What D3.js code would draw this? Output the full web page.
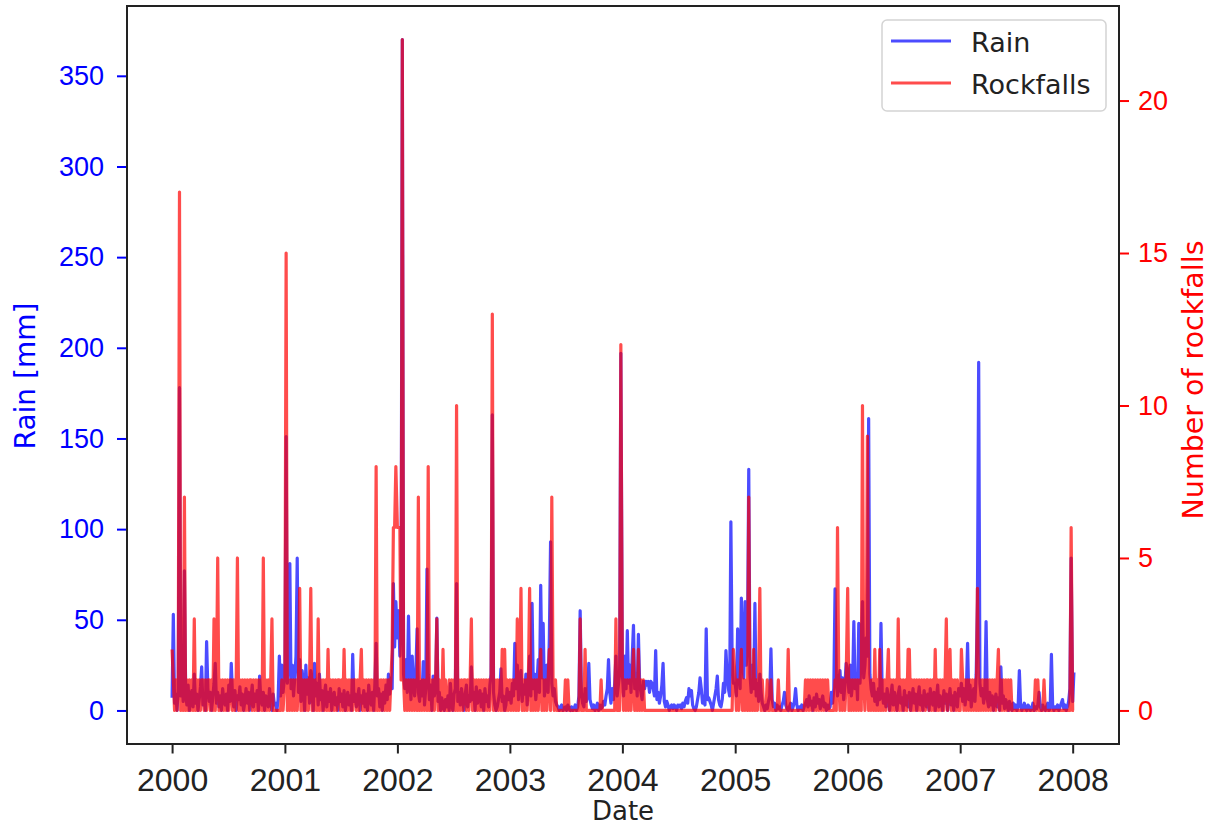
<!DOCTYPE html>
<html>
<head>
<meta charset="utf-8">
<script src="https://cdn.jsdelivr.net/npm/d3@7"></script>
<style>
  body { margin: 0; background: #fff; }
  svg { display: block; font-family: "DejaVu Sans", sans-serif; }
</style>
</head>
<body>
<div id="chart"></div>
<script>
// Rain in mm, one array per year.
var rain2000 = [7, 53, 4, 9, 0, 12, 178, 8, 20, 5,  77, 10, 3, 14, 0, 6, 11, 2, 20, 4,
  9, 0, 6, 13, 24, 3, 8, 0, 38, 12,  5, 10, 0, 7, 15, 26, 4, 10, 2, 8,
  0, 12, 6, 3, 9, 0, 14, 5, 26, 8,  2, 11, 0, 8, 6, 13, 3, 9, 0, 5,
  12, 4, 10, 0, 7, 14, 2, 9, 5, 11,  0, 19, 6, 3, 10, 0, 8, 7, 2, 12,
  5, 0, 9, 3, 4, 0, 6, 30, 8, 25,  10];
var rain2001 = [20, 151, 15, 30, 81, 12, 25, 8, 18, 30,  84, 10, 28, 5, 22, 14, 0, 25, 9, 18,
  4, 22, 12, 0, 26, 8, 15, 3, 20, 6,  11, 0, 9, 14, 2, 10, 5, 12, 0, 8,
  10, 3, 7, 0, 12, 5, 9, 2, 11, 0,  6, 10, 3, 8, 0, 31, 5, 9, 2, 7,
  12, 0, 8, 4, 11, 2, 9, 0, 14, 6,  3, 10, 0, 15, 37, 8, 12, 2, 9, 0,
  10, 4, 14, 6, 20, 9, 18, 12, 70, 35,  60];
var rain2002 = [40, 55, 30, 48, 370, 20, 12, 28, 10, 52,  18, 6, 30, 14, 8, 22, 45, 10, 5, 16,
  8, 27, 3, 12, 78, 20, 6, 14, 0, 19,  8, 12, 51, 5, 10, 0, 7, 3, 0, 6,
  2, 8, 0, 15, 4, 0, 9, 12, 70, 5,  10, 3, 12, 6, 0, 9, 14, 2, 8, 5,
  24, 6, 10, 0, 13, 4, 8, 11, 2, 9,  0, 12, 5, 8, 2, 14, 20, 163, 10, 3,
  0, 2, 6, 10, 23, 5, 8, 0, 3, 12,  6];
var rain2003 = [10, 4, 15, 8, 37, 12, 25, 6, 18, 22,  5, 14, 9, 20, 3, 16, 30, 8, 59, 12,
  20, 6, 15, 28, 10, 69, 18, 48, 8, 14,  25, 10, 40, 93, 15, 8, 12, 5, 3, 2,
  0, 2, 3, 0, 1, 2, 0, 3, 1, 0,  2, 0, 1, 3, 0, 2, 8, 55, 10, 4,
  2, 12, 5, 8, 26, 6, 3, 1, 3, 0,  2, 4, 0, 3, 1, 2, 5, 3, 8, 12,
  28, 10, 4, 12, 6, 15, 30, 8, 14, 20,  197];
var rain2004 = [20, 8, 30, 12, 44, 15, 25, 10, 30, 47,  12, 20, 8, 42, 15, 10, 6, 16, 12, 16,
  14, 16, 10, 16, 15, 12, 8, 33, 6, 10,  4, 8, 14, 26, 5, 2, 5, 3, 0, 2,
  3, 1, 3, 2, 0, 3, 2, 3, 1, 4,  2, 5, 7, 4, 12, 8, 11, 3, 1, 0,
  2, 6, 10, 18, 12, 4, 8, 3, 45, 6,  7, 5, 3, 0, 4, 8, 12, 19, 6, 3,
  2, 6, 15, 10, 33, 20, 12, 8, 104, 30,  15];
var rain2005 = [15, 8, 45, 20, 12, 62, 30, 18, 60, 25,  40, 133, 20, 10, 25, 12, 59, 8, 15, 5,
  20, 10, 4, 2, 0, 3, 1, 5, 8, 34,  6, 2, 4, 0, 3, 1, 2, 0, 3, 5,
  10, 3, 1, 0, 2, 4, 0, 2, 5, 12,  3, 0, 2, 1, 3, 0, 2, 4, 6, 2,
  8, 3, 5, 0, 7, 2, 9, 4, 6, 1,  5, 8, 2, 4, 0, 3, 1, 2, 10, 4,
  12, 67, 20, 8, 15, 22, 10, 18, 6, 14,  26];
var rain2006 = [20, 10, 25, 8, 15, 49, 12, 20, 6, 48,  15, 30, 60, 18, 25, 40, 30, 161, 20, 12,
  8, 15, 5, 10, 3, 12, 6, 48, 10, 4,  9, 2, 12, 6, 0, 8, 14, 3, 10, 5,
  0, 9, 13, 4, 7, 0, 11, 3, 8, 2,  10, 0, 6, 12, 4, 9, 0, 7, 13, 3,
  8, 0, 11, 5, 2, 9, 0, 12, 6, 3,  10, 0, 7, 14, 2, 8, 5, 0, 11, 4,
  9, 0, 6, 12, 3, 8, 0, 10, 5, 2,  12];
var rain2007 = [8, 15, 5, 12, 3, 10, 37, 6, 14, 2,  9, 12, 5, 20, 60, 192, 15, 8, 12, 4,
  10, 49, 6, 2, 10, 3, 8, 0, 5, 9,  2, 7, 0, 24, 4, 8, 1, 6, 3, 0,
  5, 2, 0, 4, 1, 3, 0, 2, 22, 3,  0, 2, 4, 1, 0, 3, 2, 0, 1, 4,
  0, 2, 1, 3, 10, 2, 0, 3, 1, 0,  2, 4, 0, 1, 31, 3, 0, 2, 1, 3,
  0, 2, 4, 6, 1, 3, 0, 2, 5, 12,  84];
var rain2008 = [5, 21];

// Rockfall counts, one character per sample (base 36: a = 10, d = 13, h = 17, m = 22).
var rocks2000 = "210101h010 7010101030 1010110101 1010301501 0101010110 1015010101 0101101010 1010501010 13000000010";
var rocks2001 = "1f01010101 0140101010 1401010301 0101020101 0101101020 1010101101 0120101010 1010801010 10101012668";
var rocks2002 = "6661m10101 0101010701 0101080101 0130100201 00101010a0 1010110101 3010101010 1010101d01 01010202010";
var rocks2003 = "1010103014 0101014010 1010120101 0120710100 0000010100 0000000300 0200000000 0000100000 0000003000c";
var rocks2004 = "1010101012 0102010100 0000000000 0000000000 0000000000 0000000000 0000000000 0000000000 00000000002";
var rocks2005 = "1010120101 0701020101 4010001001 0000010000 0002000000 0000000101 0101010101 0101010000 01061010101";
var rocks2006 = "4010101010 10a1019010 1020102010 1012010101 0301010102 2010101010 1010110101 0201010101 30120101010";
var rocks2007 = "0210101010 1010401010 1010101010 1201010101 0100000000 0000000000 0101000010 0000000000 00000000006";
var rocks2008 = "00";

var years = [2000, 2001, 2002, 2003, 2004, 2005, 2006, 2007, 2008];
var rainByYear = [rain2000, rain2001, rain2002, rain2003, rain2004, rain2005, rain2006, rain2007, rain2008];
var rocksByYear = [rocks2000, rocks2001, rocks2002, rocks2003, rocks2004, rocks2005, rocks2006, rocks2007, rocks2008];
var slotDays = 4;

var rainTicks = [0, 50, 100, 150, 200, 250, 300, 350];
var rockTicks = [0, 5, 10, 15, 20];
var yearTicks = [2000, 2001, 2002, 2003, 2004, 2005, 2006, 2007, 2008];

var data = [];
years.forEach(function(yr, i) {
    var counts = rocksByYear[i].replace(/ /g, '');
    rainByYear[i].forEach(function(v, s) {
        data.push({
            date: new Date(yr, 0, 1 + s * slotDays),
            rain: v,
            rocks: parseInt(counts[s], 36)
        });
    });
});

var width = 1209, height = 827;
var plotL = 127, plotR = 1119, plotT = 6, plotB = 744;
var rainColor = 'blue', rockColor = 'red';

// matplotlib style 5% margins
function padded(ext) {
    var span = ext[1] - ext[0];
    return [ext[0] - 0.05 * span, +ext[1] + 0.05 * span];
}

var x = d3.scaleTime()
    .domain(padded(d3.extent(data, function(d) { return +d.date; })))
    .range([plotL, plotR]);
var yRain = d3.scaleLinear()
    .domain(padded([0, d3.max(data, function(d) { return d.rain; })]))
    .range([plotB, plotT]);
var yRock = d3.scaleLinear()
    .domain(padded([0, d3.max(data, function(d) { return d.rocks; })]))
    .range([plotB, plotT]);

var svg = d3.select('#chart')
    .append('svg')
    .attr('width', width)
    .attr('height', height);

svg.append('defs').append('clipPath')
    .attr('id', 'plot-clip')
    .append('rect')
    .attr('x', plotL).attr('y', plotT)
    .attr('width', plotR - plotL).attr('height', plotB - plotT);

var plot = svg.append('g').attr('clip-path', 'url(#plot-clip)');

var rainLine = d3.line()
    .x(function(d) { return x(d.date); })
    .y(function(d) { return yRain(d.rain); });
var rockLine = d3.line()
    .x(function(d) { return x(d.date); })
    .y(function(d) { return yRock(d.rocks); });

plot.append('path')
    .attr('d', rainLine(data))
    .style('fill', 'none')
    .style('stroke', rainColor)
    .style('stroke-opacity', 0.7)
    .style('stroke-width', 3.2)
    .style('stroke-linejoin', 'round');

plot.append('path')
    .attr('d', rockLine(data))
    .style('fill', 'none')
    .style('stroke', rockColor)
    .style('stroke-opacity', 0.7)
    .style('stroke-width', 3.2)
    .style('stroke-linejoin', 'round');

// axes
var xAxis = d3.axisBottom(x)
    .tickValues(yearTicks.map(function(y) { return new Date(y, 0, 1); }))
    .tickFormat(d3.timeFormat('%Y'))
    .tickSize(9.5);
var gx = svg.append('g')
    .attr('transform', 'translate(0,' + plotB + ')')
    .call(xAxis);
gx.selectAll('text')
    .attr('dy', null)
    .attr('y', 47)
    .style('font-size', '32px')
    .style('fill', '#222');
gx.selectAll('line').style('stroke', '#222').style('stroke-width', 2);

var yAxisL = d3.axisLeft(yRain).tickValues(rainTicks).tickSize(10).tickPadding(13);
var gyl = svg.append('g')
    .attr('transform', 'translate(' + plotL + ',0)')
    .call(yAxisL);
gyl.selectAll('text').style('font-size', '27px').style('fill', rainColor);
gyl.selectAll('line').style('stroke', rainColor).style('stroke-width', 2);

var yAxisR = d3.axisRight(yRock).tickValues(rockTicks).tickSize(10).tickPadding(9);
var gyr = svg.append('g')
    .attr('transform', 'translate(' + plotR + ',0)')
    .call(yAxisR);
gyr.selectAll('text').style('font-size', '27px').style('fill', rockColor);
gyr.selectAll('line').style('stroke', rockColor).style('stroke-width', 2);

svg.selectAll('.domain').remove();

// frame
svg.append('rect')
    .attr('x', plotL).attr('y', plotT)
    .attr('width', plotR - plotL).attr('height', plotB - plotT)
    .style('fill', 'none')
    .style('stroke', '#222')
    .style('stroke-width', 2);

// axis labels
svg.append('text')
    .attr('x', (plotL + plotR) / 2).attr('y', 820)
    .attr('text-anchor', 'middle')
    .style('font-size', '26px').style('fill', '#222')
    .text('Date');
svg.append('text')
    .attr('transform', 'translate(35,' + ((plotT + plotB) / 2 + 1) + ')rotate(-90)')
    .attr('text-anchor', 'middle')
    .style('font-size', '28px').style('fill', rainColor)
    .text('Rain [mm]');
svg.append('text')
    .attr('transform', 'translate(1203,' + ((plotT + plotB) / 2 + 5) + ')rotate(-90)')
    .attr('text-anchor', 'middle')
    .style('font-size', '28.5px').style('fill', rockColor)
    .text('Number of rockfalls');

// legend
var legend = svg.append('g').attr('class', 'legend');
legend.append('rect')
    .attr('x', 882).attr('y', 20)
    .attr('width', 224).attr('height', 91)
    .attr('rx', 5)
    .style('fill', '#fff').style('fill-opacity', 0.8)
    .style('stroke', '#d4d4d4').style('stroke-width', 1.5);
var entries = [{label: 'Rain', color: rainColor}, {label: 'Rockfalls', color: rockColor}];
entries.forEach(function(e, i) {
    var cy = 41 + i * 42;
    legend.append('line')
        .attr('x1', 891).attr('x2', 951)
        .attr('y1', cy).attr('y2', cy)
        .style('stroke', e.color).style('stroke-opacity', 0.7)
        .style('stroke-width', 3.2);
    legend.append('text')
        .attr('x', 971).attr('y', cy + 10.5)
        .style('font-size', '27px').style('fill', '#222')
        .text(e.label);
});
</script>
</body>
</html>
